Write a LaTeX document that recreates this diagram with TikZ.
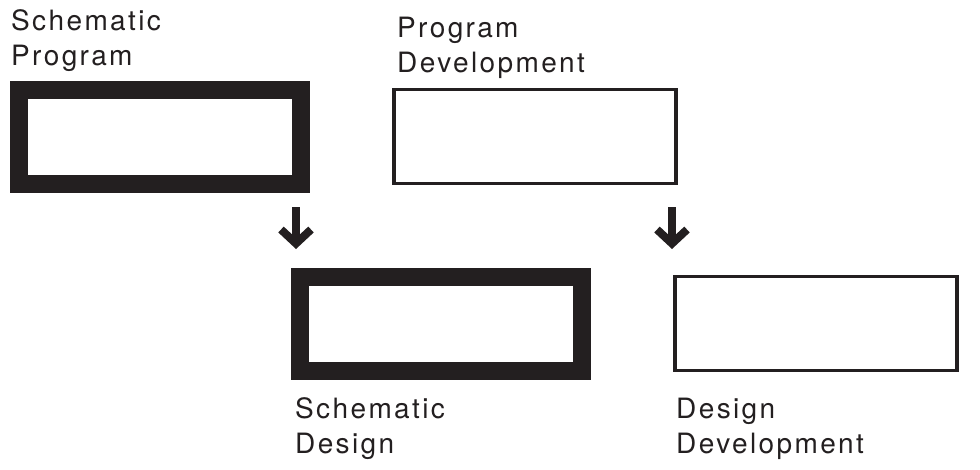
\documentclass[tikz,border=0pt]{standalone}
\usepackage{fontspec}
\setmainfont{TeX Gyre Heros}[LetterSpace=8.5]
\usetikzlibrary{arrows.meta,
	positioning}
\definecolor{ink}{HTML}{231F20}
\tikzstyle{thk}=[draw=ink, line width=18pt, minimum width=282pt, minimum height=94pt, inner sep=0]
\tikzstyle{thn}=[draw=ink, line width=3.5pt, minimum width=282pt, minimum height=94pt, inner sep=0]
\tikzstyle{lbl}=[text=ink, font=\fontsize{28}{35}\selectfont, align=left, inner sep=0, anchor=base west]
\tikzstyle{arr}=[draw=ink, line width=8pt, -{Straight Barb[length=14pt, width=30pt]}]

\begin{document}
\begin{tikzpicture}[x=1pt, y=-1pt]
        \useasboundingbox (0,0) rectangle (980,469);
        \node[thk] (sp) at (160,137) {};
        \node[thn] (pd) at (535,136.5) {};
        \node[thk] (sd) at (441,323.5) {};
        \node[thn] (dd) at (816,323.5) {};
        \node[lbl] (tsp) at (11,65) {Schematic\\Program};
        \node[lbl] (tpd) at (397,72) {Program\\Development};
        \node[lbl] (tsd) at (295,453) {Schematic\\Design};
        \node[lbl] (tdd) at (676,453) {Design\\Development};
        \coordinate (a1) at (296,207);
        \coordinate (b1) at (296,249);
        \coordinate (a2) at (672,207);
        \coordinate (b2) at (672,249);
        \draw[arr] (a1) -- (b1);
        \draw[arr] (a2) -- (b2);
    \end{tikzpicture}
\end{document}
